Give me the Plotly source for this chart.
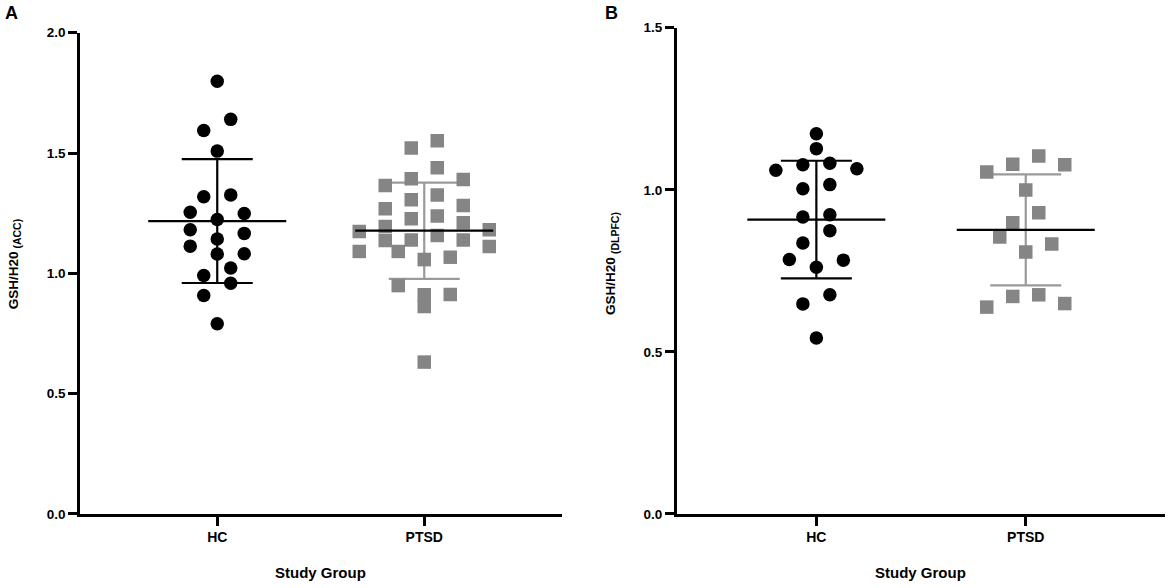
import numpy as np
import plotly.graph_objects as go

# ---------------- data ----------------
groups = ["HC", "PTSD"]

acc_hc = [1.798, 1.640, 1.594, 1.508, 1.326, 1.318, 1.254, 1.249, 1.224, 1.181,
          1.166, 1.143, 1.113, 1.080, 1.081, 1.022, 0.991, 0.959, 0.908, 0.790]
acc_ptsd = [1.551, 1.521, 1.439, 1.390, 1.393, 1.365, 1.306, 1.326, 1.282, 1.268,
            1.238, 1.227, 1.210, 1.174, 1.181, 1.195, 1.157, 1.139, 1.139, 1.136,
            1.111, 1.091, 1.091, 1.067, 1.057, 0.949, 0.911, 0.912, 0.862, 0.631]
dlpfc_hc = [1.173, 1.127, 1.077, 1.082, 1.060, 1.065, 1.003, 1.016, 0.916, 0.923,
            0.874, 0.836, 0.785, 0.783, 0.761, 0.676, 0.648, 0.543]
dlpfc_ptsd = [1.079, 1.104, 1.077, 1.055, 0.999, 0.929, 0.898, 0.854, 0.833, 0.808,
              0.676, 0.671, 0.649, 0.638]

acc_ticks = [0.0, 0.5, 1.0, 1.5, 2.0]
dlpfc_ticks = [0.0, 0.5, 1.0, 1.5]

# ---------------- layout geometry ----------------
W, H = 1170, 588
FONT = "Liberation Sans, Arial, sans-serif"
BLACK = "#000000"
GREY_MK = "#858585"
GREY_LN = "#9a9a9a"

# the photographed page comes out slightly squeezed vertically; map target
# screen rows to figure rows
SHOT_S, SHOT_C = 0.9746, 7.55


def fy(y_screen):
    return (y_screen - SHOT_C) / SHOT_S


MAIN_FS, SUB_FS = 13.5, 10.5
L_MAIN = 4.279 * MAIN_FS          # approx. rendered length of "GSH/H20"

panels = [
    dict(x0=80.0, x1=561.7, ytop=33.3, ybot=514.5, xr=[-0.663, 1.664],
         yr=[0, 2.0], ticks=acc_ticks, data=[acc_hc, acc_ptsd],
         sub="(ACC)", sub_len=2.832 * SUB_FS, ttl_x=13, ttl_y=264.5,
         letter="A", letter_x=3),
    dict(x0=676.7, x1=1165.0, ytop=28.3, ybot=514.5, xr=[-0.667, 1.665],
         yr=[0, 1.5], ticks=dlpfc_ticks, data=[dlpfc_hc, dlpfc_ptsd],
         sub="(DLPFC)", sub_len=3.999 * SUB_FS, ttl_x=611, ttl_y=264,
         letter="B", letter_x=603),
]

# column-scatter settings per group (row height / spacing in screen px)
swarm_cfg = [dict(row_h=14.0, step=27.0, max_row=7),
             dict(row_h=18.0, step=26.0, max_row=6)]


def swarm(values, px_per_y, px_per_x, row_h, step, max_row):
    """Column-scatter offsets: bin points into rows, spread each row symmetrically."""
    v = np.asarray(values, float)
    order = np.argsort(-v, kind="stable")
    rows, cur, start = [], [], None
    for i in order:
        ypx = v[i] * px_per_y
        if cur and start - ypx < row_h and len(cur) < max_row:
            cur.append(i)
        else:
            if cur:
                rows.append(cur)
            cur, start = [i], ypx
    if cur:
        rows.append(cur)
    off = np.zeros(len(v))
    for row in rows:
        k = len(row)
        slots = []
        if k % 2:
            for j in range(1, k // 2 + 1):
                slots += [-j, j]
            slots += [0]
        else:
            for j in range(k // 2):
                slots += [j + 0.5, -(j + 0.5)]
        for idx, s in zip(row, slots):
            off[idx] = s * step / px_per_x
    return off


fig = go.Figure()
layout_axes = {}
annotations = []

for p_i, p in enumerate(panels):
    sfx = "" if p_i == 0 else str(p_i + 1)
    xa, ya = "x" + sfx, "y" + sfx
    px_per_x = (p["x1"] - p["x0"]) / (p["xr"][1] - p["xr"][0])
    px_per_y = (p["ybot"] - p["ytop"]) / (p["yr"][1] - p["yr"][0])
    mean_hw = 69.0 / px_per_x
    cap_hw = 35.5 / px_per_x

    for g_i, vals in enumerate(p["data"]):
        vals = np.asarray(vals, float)
        m = float(np.mean(vals))
        sd = float(np.std(vals, ddof=1))
        sd_col = BLACK if g_i == 0 else GREY_LN
        # SD bar with caps
        fig.add_trace(go.Scatter(
            x=[g_i, g_i, None, g_i - cap_hw, g_i + cap_hw, None, g_i - cap_hw, g_i + cap_hw],
            y=[m - sd, m + sd, None, m + sd, m + sd, None, m - sd, m - sd],
            mode="lines", line=dict(color=sd_col, width=2.2),
            xaxis=xa, yaxis=ya, hoverinfo="skip", showlegend=False))
        # points
        off = swarm(vals, px_per_y, px_per_x, **swarm_cfg[g_i])
        fig.add_trace(go.Scatter(
            x=g_i + off, y=vals, mode="markers",
            marker=dict(symbol="circle" if g_i == 0 else "square", size=13.5,
                        color=BLACK if g_i == 0 else GREY_MK,
                        line=dict(width=0)),
            xaxis=xa, yaxis=ya, showlegend=False))
        # mean line
        fig.add_trace(go.Scatter(
            x=[g_i - mean_hw, g_i + mean_hw], y=[m, m], mode="lines",
            line=dict(color=BLACK, width=2.2),
            xaxis=xa, yaxis=ya, hoverinfo="skip", showlegend=False))

    layout_axes["xaxis" + sfx] = dict(
        domain=[p["x0"] / W, p["x1"] / W], range=p["xr"], anchor=ya,
        tickvals=[0, 1], ticktext=groups, ticks="outside", ticklen=9,
        tickwidth=2.5, tickcolor=BLACK, showline=True, linewidth=2.5,
        linecolor=BLACK, showgrid=False, zeroline=False,
        tickfont=dict(family=FONT, size=14, color=BLACK, weight="bold"))
    layout_axes["yaxis" + sfx] = dict(
        domain=[(H - fy(p["ybot"])) / H, (H - fy(p["ytop"])) / H], range=p["yr"],
        anchor=xa, tickvals=p["ticks"], tickformat=".1f", ticks="outside",
        ticklen=9, tickwidth=2.5, tickcolor=BLACK, showline=True,
        linewidth=2.5, linecolor=BLACK, showgrid=False, zeroline=False,
        tickfont=dict(family=FONT, size=13.5, color=BLACK, weight="bold"))

    total = L_MAIN + 3 + p["sub_len"]
    main_c = p["ttl_y"] + total / 2 - L_MAIN / 2
    sub_c = p["ttl_y"] - total / 2 + p["sub_len"] / 2
    annotations += [
        dict(text="GSH/H20", xref="paper", yref="paper", x=p["ttl_x"] / W,
             y=1 - fy(main_c) / H, xanchor="center", yanchor="middle",
             textangle=-90, showarrow=False,
             font=dict(family=FONT, size=MAIN_FS, color=BLACK, weight="bold")),
        dict(text=p["sub"], xref="paper", yref="paper", x=(p["ttl_x"] + 4) / W,
             y=1 - fy(sub_c) / H, xanchor="center", yanchor="middle",
             textangle=-90, showarrow=False,
             font=dict(family=FONT, size=SUB_FS, color=BLACK, weight="bold")),
        dict(text="Study Group", xref="paper", yref="paper",
             x=(p["x0"] + p["x1"]) / 2 / W, y=1 - fy(573) / H,
             xanchor="center", yanchor="middle", showarrow=False,
             font=dict(family=FONT, size=15, color=BLACK, weight="bold")),
        dict(text=p["letter"], xref="paper", yref="paper",
             x=p["letter_x"] / W, y=1 - fy(14) / H, xanchor="left",
             yanchor="middle", showarrow=False,
             font=dict(family=FONT, size=18, color=BLACK, weight="bold")),
    ]

fig.update_layout(
    width=W, height=H, margin=dict(l=0, r=0, t=0, b=0),
    paper_bgcolor="white", plot_bgcolor="white",
    showlegend=False, annotations=annotations, **layout_axes)

# remove the browser's default page margins so the 1170x588 figure fills the window exactly
reset_css = (
    "var s=document.createElement('style');"
    "s.textContent='html,body{margin:0!important;padding:0!important;overflow:hidden;"
    "width:1170px;height:588px;}';"
    "document.head.appendChild(s);"
)
fig.write_html("out.html", config=dict(responsive=False, displayModeBar=False),
               post_script=reset_css)
